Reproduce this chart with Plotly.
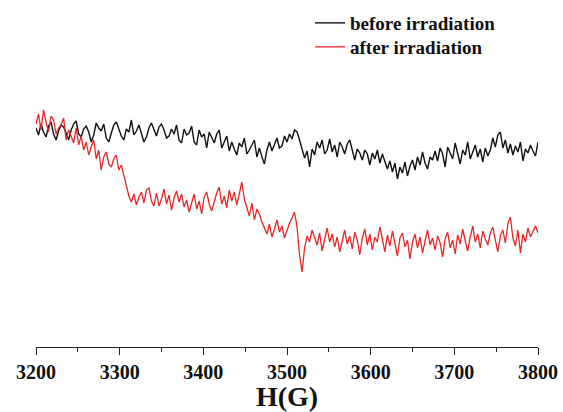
import plotly.graph_objects as go

# Magnetic field (G), sampled every 3 G from 3200 to 3800
field_start = 3200
field_step = 3

# EPR signal intensity (arbitrary units)
before_irradiation = [
    172, 165, 176, 168, 163, 174, 178, 166, 160, 169,
    175, 173, 167, 160, 170, 176, 179, 166, 163, 171,
    174, 168, 158, 165, 177, 172, 169, 176, 162, 158,
    167, 175, 178, 170, 164, 160, 171, 168, 180, 165,
    169, 175, 166, 158, 163, 172, 177, 170, 164, 173,
    176, 170, 162, 164, 171, 166, 175, 160, 157, 171,
    165, 167, 174, 158, 155, 170, 163, 166, 152, 168,
    163, 157, 166, 170, 152, 158, 164, 149, 158, 151,
    145, 157, 153, 162, 146, 150, 155, 160, 143, 152,
    143, 136, 150, 158, 149, 156, 162, 152, 154, 164,
    158, 166, 161, 170, 168, 160, 150, 142, 149, 133,
    151, 145, 158, 152, 160, 146, 150, 161, 148, 155,
    143, 158, 153, 146, 156, 160, 150, 140, 151, 147,
    140, 150, 146, 135, 147, 141, 150, 137, 146, 139,
    131, 139, 128, 137, 121, 133, 127, 138, 124, 134,
    140, 130, 143, 135, 148, 137, 131, 143, 140, 149,
    139, 152, 146, 133, 153, 147, 141, 157, 147, 136,
    150, 145, 158, 141, 148, 155, 143, 151, 138, 152,
    144, 150, 162, 153, 165, 168, 152, 160, 147, 156,
    145, 154, 148, 158, 139, 151, 147, 155, 149, 144,
    158,
]

after_irradiation = [
    176, 186, 170, 190, 178, 168, 184, 180, 166, 172,
    175, 182, 160, 170, 164, 157, 172, 155, 164, 150,
    158, 145, 153, 160, 141, 150, 130, 143, 148, 136,
    133, 141, 145, 130, 135, 124, 112, 104, 98, 106,
    95, 103, 108, 97, 110, 112, 99, 94, 107, 94,
    101, 111, 96, 105, 90, 102, 109, 98, 106, 93,
    100, 88, 97, 106, 91, 99, 86, 103, 108, 96,
    89, 98, 107, 113, 96, 104, 92, 110, 99, 108,
    95, 106, 118, 101, 93, 84, 97, 80, 91, 86,
    78, 72, 66, 76, 63, 71, 80, 68, 74, 62,
    70, 77, 82, 88, 73, 45, 28, 52, 64, 58,
    70, 62, 55, 67, 49, 61, 72, 58, 66, 53,
    63, 48, 59, 70, 56, 64, 51, 68, 60, 45,
    62, 71, 55, 66, 50, 63, 58, 73, 61, 48,
    65, 54, 69, 57, 44, 62, 67, 53, 60, 41,
    58, 66, 52, 63, 47, 59, 70, 55, 62, 50,
    64, 57, 43, 61, 68, 52, 60, 46, 65, 56,
    71, 59, 49, 63, 74, 58, 66, 52, 69, 61,
    55, 67, 73, 60, 48, 64, 70, 57, 76, 83,
    62, 54, 70, 47, 66, 58, 72, 63, 68, 74,
    67,
]

field = [field_start + field_step * i for i in range(len(before_irradiation))]

tick_values = [3200, 3300, 3400, 3500, 3600, 3700, 3800]
tick_labels = ["3200", "3300", "3400", "3500", "3600", "3700", "3800"]

serif = "Liberation Serif, Times New Roman, serif"
legend_font = dict(family=serif, size=19, color="#111111", weight="bold")
plot_h = 347.0
legend_x = (310 - 36) / 502

fig = go.Figure()
fig.add_trace(go.Scatter(
    x=field, y=before_irradiation, mode="lines", name="before irradiation",
    line=dict(color="#111111", width=1.4), legend="legend",
))
fig.add_trace(go.Scatter(
    x=field, y=after_irradiation, mode="lines", name="after irradiation",
    line=dict(color="#e5282a", width=1.3), legend="legend2",
))

fig.update_layout(
    width=563, height=412,
    margin=dict(l=36, r=25, t=0, b=65),
    paper_bgcolor="white", plot_bgcolor="white",
    showlegend=True,
    legend=dict(
        x=legend_x, xanchor="left",
        y=1 - 4 / plot_h, yanchor="top",
        bgcolor="rgba(0,0,0,0)", borderwidth=0, font=legend_font,
    ),
    legend2=dict(
        x=legend_x, xanchor="left",
        y=1 - 28 / plot_h, yanchor="top",
        bgcolor="rgba(0,0,0,0)", borderwidth=0, font=legend_font,
    ),
    xaxis=dict(
        range=[3200, 3800],
        tickmode="array", tickvals=tick_values, ticktext=tick_labels,
        ticks="outside", ticklen=7, tickwidth=1.3, tickcolor="#222222",
        minor=dict(dtick=50, tick0=3200, ticks="outside", ticklen=4,
                   tickwidth=1.2, tickcolor="#222222"),
        showline=True, linecolor="#222222", linewidth=1.3,
        showgrid=False, zeroline=False,
        tickfont=dict(family=serif, size=20, color="#111111", weight="bold"),
        title=dict(text="H(G)", standoff=8,
                   font=dict(family=serif, size=28, color="#111111", weight="bold")),
    ),
    yaxis=dict(
        range=[-47, 300],
        visible=False, showgrid=False, zeroline=False,
    ),
)

fig.write_html("out.html")
